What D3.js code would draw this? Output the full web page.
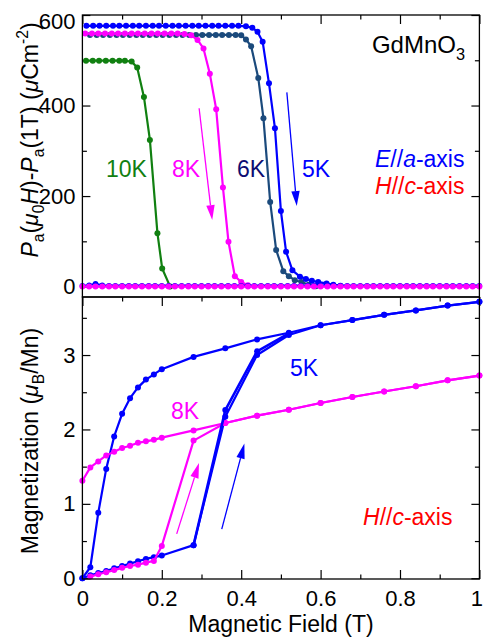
<!DOCTYPE html>
<html>
<head>
<meta charset="utf-8">
<script src="https://cdn.jsdelivr.net/npm/d3@7"></script>
<style>
  html, body { margin: 0; padding: 0; background: #fff; }
  svg { display: block; font-family: "Liberation Sans", Arial, Helvetica, sans-serif; }
</style>
</head>
<body>
<svg id="chart" width="483" height="639"></svg>
<script>
// ---------- Polarization change, P_a(H) - P_a(1T) (µC/m²) ----------
const p5K_H = [0.010,0.027,0.043,0.060,0.077,0.093,0.110,0.127,0.143,0.160,0.177,0.193,0.210,0.227,0.243,0.260,0.277,0.293,0.310,0.327,0.343,0.360,0.377,0.393,
               0.412,0.428,0.441,0.454,0.470,0.485,0.500,0.513,0.529,0.548,0.563,0.578,0.594,0.615,0.632,0.650];
const p5K_P = [576,576,576,576,576,576,576,576,576,576,576,576,576,576,576,576,576,576,576,576,576,576,576,576,
               575,572,563,541,449,350,167,77,36,22,17,13,10,7,4,2];

const p6K_H = [0.019,0.036,0.052,0.069,0.086,0.102,0.119,0.136,0.152,0.169,0.186,0.202,0.219,0.236,0.252,0.269,0.286,0.302,0.319,0.336,0.352,0.369,0.386,
               0.400,0.412,0.425,0.443,0.456,0.473,0.488,0.506,0.520,0.535,0.552,0.570,0.588];
const p6K_P = [556,556,556,556,556,556,556,556,556,556,556,556,556,556,556,556,556,556,556,556,556,556,556,
               555,546,531,461,372,187,81,34,23,14,10,4,1];

const p8K_H = [0.007,0.024,0.040,0.057,0.074,0.090,0.107,0.124,0.140,0.157,0.174,0.190,0.207,0.224,0.240,
               0.257,0.274,0.290,0.305,0.321,0.337,0.354,0.368,0.384,0.400,0.417];
const p8K_P = [559,559,559,559,559,559,559,559,559,559,559,559,559,559,559,
               558,555,545,526,470,392,219,99,23,10,3];

const p10K_H = [0.009,0.026,0.042,0.059,0.076,0.093,0.107,0.124,0.138,0.155,0.170,0.189,0.201,0.221];
const p10K_P = [499,499,499,499,499,499,499,497,484,419,324,118,40,0];

// return sweeps (field grid shared by both)
const returnH = [0.000,0.017,0.033,0.050,0.067,0.083,0.100,0.117,0.133,0.150,0.167,0.183,0.200,0.217,0.233,0.250,0.267,0.283,0.300,0.317,
                 0.333,0.350,0.367,0.383,0.400,0.417,0.433,0.450,0.467,0.483,0.500,0.517,0.533,0.550,0.567,0.583,0.600,0.617,0.633,0.650,
                 0.667,0.683,0.700,0.717,0.733,0.750,0.767,0.783,0.800,0.817,0.833,0.850,0.867,0.883,0.900,0.917,0.933,0.950,0.967,0.983,1.000];
const return5K_P = [2,3,6,3,2,2,2,2,2,2,2,2,2,2,2,2,2,2,2,2,
                    2,2,2,2,2,2,2,2,2,2,2,2,2,2,2,2,2,2,2,2,
                    2,2,2,2,2,2,2,2,2,2,2,2,2,2,2,2,2,2,2,2,2];
const return8K_P = [0,0,0,0,0,0,0,0,0,0,0,0,0,0,0,0,0,0,0,0,
                    0,0,0,0,0,0,0,0,0,0,0,0,0,0,0,0,0,0,0,0,
                    0,0,0,0,0,0,0,0,0,0,0,0,0,0,0,0,0,0,0,0,0];

// ---------- Magnetization (µB/Mn) ----------
const mDown_H = [1.00,0.92,0.84,0.76,0.68,0.60,0.52,0.44,0.36,0.28,0.20,0.18,0.16,0.14,0.12,0.10,0.08,0.06,0.04,0.02,0.00];
const m5K_down = [3.715,3.665,3.60,3.54,3.47,3.40,3.30,3.21,3.09,2.975,2.81,2.74,2.67,2.565,2.42,2.21,1.906,1.47,0.88,0.148,0.0];
const m8K_down = [2.724,2.66,2.58,2.51,2.436,2.355,2.265,2.185,2.086,1.987,1.89,1.86,1.84,1.82,1.78,1.75,1.70,1.65,1.57,1.49,1.31];

const m5K_up_H = [0.00,0.02,0.04,0.06,0.08,0.10,0.12,0.14,0.16,0.18,0.20,0.28,0.36,0.44,0.52,0.60,0.68,0.76,0.84,0.92,1.00];
const m5K_up   = [0.0,0.04,0.07,0.098,0.134,0.165,0.197,0.229,0.26,0.283,0.305,0.445,2.17,3.00,3.27,3.40,3.47,3.54,3.60,3.665,3.715];
const m5K_up2_H = [0.28,0.36,0.44,0.52];
const m5K_up2   = [0.445,2.26,3.05,3.29];

const m8K_up_H = [0.02,0.04,0.06,0.08,0.10,0.12,0.14,0.16,0.18,0.20,0.28,0.36,0.44,0.52,0.60,0.68,0.76,0.84,0.92,1.00];
const m8K_up   = [0.022,0.054,0.08,0.11,0.14,0.165,0.183,0.21,0.233,0.435,1.85,2.086,2.185,2.265,2.355,2.436,2.51,2.58,2.66,2.724];

// ---------- ticks ----------
const fieldMajor = [0, 0.2, 0.4, 0.6, 0.8, 1];
const fieldMinor = [0.1, 0.3, 0.5, 0.7, 0.9];
const polMajor = [0, 200, 400, 600];
const polMinor = [100, 300, 500];
const magMajor = [0, 1, 2, 3];
const magMinor = [0.5, 1.5, 2.5, 3.5];

// ---------- colours ----------
const C = {
  blue: "#0000ff", navy: "#1b4a7c", navyText: "#0d0d72", green: "#118011",
  magenta: "#ff00ff", red: "#ff0000"
};

// ---------- layout ----------
const L = 82.4, R = 479.4, T = 15, MID = 297, B = 579;
const FONT = 23, TICK_FONT = 22;

const svg = d3.select("#chart");
const x = d3.scaleLinear().domain([0, 1]).range([L, R]);
const yP = d3.scaleLinear().domain([-23, 600]).range([MID, T]);
const yM = d3.scaleLinear().domain([-0.01, 3.78]).range([B, MID]);

const zip = (a, b) => a.map((v, i) => [v, b[i]]);

function series(yScale, H, V, color, opt = {}) {
  const pts = zip(H, V);
  const g = svg.append("g");
  g.append("path")
    .datum(pts)
    .attr("fill", "none")
    .attr("stroke", color)
    .attr("stroke-width", opt.lw || 2.2)
    .attr("stroke-linejoin", "round")
    .attr("d", d3.line().x(d => x(d[0])).y(d => yScale(d[1])));
  if (opt.r !== 0) {
    g.selectAll("circle").data(pts).join("circle")
      .attr("cx", d => x(d[0])).attr("cy", d => yScale(d[1]))
      .attr("r", opt.r || 3).attr("fill", color);
  }
}

// tick-only axes carry no text at all
function axisAt(gen, tx, ty, withLabels = false) {
  const g = svg.append("g").attr("transform", `translate(${tx},${ty})`);
  g.call(gen);
  g.select(".domain").remove();
  g.attr("font-family", null).attr("font-size", TICK_FONT);
  g.selectAll("line").attr("stroke", "#000").attr("stroke-width", 1.2);
  if (withLabels) g.selectAll("text").attr("fill", "#000");
  else g.selectAll("text").remove();
  return g;
}

// ---------- upper panel ----------
axisAt(d3.axisLeft(yP).tickValues(polMajor).tickSizeInner(-8).tickSizeOuter(0).tickPadding(7).tickFormat(d3.format("d")), L, 0, true)
  .selectAll("text").filter(d => d === 600).attr("dy", "0.62em");
axisAt(d3.axisLeft(yP).tickValues(polMinor).tickSizeInner(-4.5).tickSizeOuter(0), L, 0);
axisAt(d3.axisRight(yP).tickValues(polMajor).tickSizeInner(-8).tickSizeOuter(0), R, 0);
axisAt(d3.axisRight(yP).tickValues(polMinor).tickSizeInner(-4.5).tickSizeOuter(0), R, 0);
axisAt(d3.axisTop(x).tickValues(fieldMajor).tickSizeInner(-9).tickSizeOuter(0), 0, T);
axisAt(d3.axisTop(x).tickValues(fieldMinor).tickSizeInner(-4.5).tickSizeOuter(0), 0, T);

// ---------- lower panel ----------
axisAt(d3.axisTop(x).tickValues(fieldMajor).tickSizeInner(-9).tickSizeOuter(0), 0, MID);
axisAt(d3.axisTop(x).tickValues(fieldMinor).tickSizeInner(-4.5).tickSizeOuter(0), 0, MID);
axisAt(d3.axisBottom(x).tickValues(fieldMajor).tickSizeInner(-9).tickSizeOuter(0).tickPadding(11)
  .tickFormat(d => (d === 0 || d === 1) ? String(d) : d.toFixed(1)), 0, B, true)
  .selectAll("text").filter(d => d === 1).attr("dx", -3);
axisAt(d3.axisBottom(x).tickValues(fieldMinor).tickSizeInner(-4.5).tickSizeOuter(0), 0, B);
axisAt(d3.axisLeft(yM).tickValues(magMajor).tickSizeInner(-8).tickSizeOuter(0).tickPadding(7).tickFormat(d3.format("d")), L, 0, true);
axisAt(d3.axisLeft(yM).tickValues(magMinor).tickSizeInner(-4.5).tickSizeOuter(0), L, 0);
axisAt(d3.axisRight(yM).tickValues(magMajor).tickSizeInner(-8).tickSizeOuter(0), R, 0);
axisAt(d3.axisRight(yM).tickValues(magMinor).tickSizeInner(-4.5).tickSizeOuter(0), R, 0);

// ---------- data: polarization ----------
series(yP, p6K_H, p6K_P, C.navy);
series(yP, p10K_H, p10K_P, C.green);
series(yP, p5K_H, p5K_P, C.blue);
series(yP, p8K_H, p8K_P, C.magenta);
series(yP, returnH, return5K_P, C.blue, { r: 2.8 });
series(yP, returnH, return8K_P, C.magenta, { r: 3 });

// ---------- data: magnetization ----------
series(yM, mDown_H, m5K_down, C.blue, { r: 3 });
series(yM, m5K_up_H, m5K_up, C.blue, { r: 3 });
series(yM, m8K_up_H, m8K_up, C.magenta, { r: 3 });
series(yM, mDown_H, m8K_down, C.magenta, { r: 3 });
series(yM, m5K_up2_H, m5K_up2, C.blue, { r: 3, lw: 2.6 });

// ---------- frames ----------
svg.append("rect").attr("x", L).attr("y", T).attr("width", R - L).attr("height", MID - T)
  .attr("fill", "none").attr("stroke", "#000").attr("stroke-width", 1.3);
svg.append("rect").attr("x", L).attr("y", MID).attr("width", R - L).attr("height", B - MID)
  .attr("fill", "none").attr("stroke", "#000").attr("stroke-width", 1.3);

// ---------- sweep-direction arrows ----------
function arrow(yScale, from, to, color) {
  const x0 = x(from[0]), y0 = yScale(from[1]), x1 = x(to[0]), y1 = yScale(to[1]);
  const ang = Math.atan2(y1 - y0, x1 - x0);
  const len = 15, hw = 4.2;
  const bx = x1 - len * Math.cos(ang), by = y1 - len * Math.sin(ang);
  svg.append("line").attr("x1", x0).attr("y1", y0).attr("x2", bx).attr("y2", by)
    .attr("stroke", color).attr("stroke-width", 1.3);
  const px = -Math.sin(ang) * hw, py = Math.cos(ang) * hw;
  svg.append("path")
    .attr("d", `M${x1},${y1}L${bx + px},${by + py}L${bx - px},${by - py}Z`)
    .attr("fill", color);
}
arrow(yP, [0.294, 394], [0.327, 147], C.magenta);
arrow(yP, [0.515, 429], [0.540, 178], C.blue);
arrow(yM, [0.2375, 0.596], [0.2937, 1.548], C.magenta);
arrow(yM, [0.351, 0.66], [0.408, 1.81], C.blue);

// ---------- text ----------
function rich(sel, parts, size) {
  let shift = 0;
  parts.forEach(p => {
    const ts = sel.append("tspan").text(p.t);
    const target = p.sub ? size * 0.3 : p.sup ? -size * 0.4 : 0;
    ts.attr("dy", target - shift);
    shift = target;
    if (p.sub || p.sup) ts.attr("font-size", size * 0.68);
    if (p.i) ts.attr("font-style", "italic");
  });
}
function label(xp, yp, parts, color, size = FONT, anchor = "start") {
  const t = svg.append("text").attr("x", xp).attr("y", yp).attr("fill", color)
    .attr("font-size", size).attr("text-anchor", anchor);
  rich(t, parts, size);
  return t;
}

label(465, 53, [{ t: "GdMnO" }, { t: "3", sub: true }], "#000", 24, "end");
label(375, 167, [{ t: "E", i: true }, { t: "//" }, { t: "a", i: true }, { t: "-axis" }], C.blue);
label(375, 194, [{ t: "H", i: true }, { t: "//" }, { t: "c", i: true }, { t: "-axis" }], C.red);
label(106, 177, [{ t: "10K" }], C.green);
label(172, 177, [{ t: "8K" }], C.magenta);
label(237, 177, [{ t: "6K" }], C.navyText);
label(302, 177, [{ t: "5K" }], C.blue);

label(290, 376, [{ t: "5K" }], C.blue);
label(171, 419, [{ t: "8K" }], C.magenta);
label(363, 525, [{ t: "H", i: true }, { t: "//" }, { t: "c", i: true }, { t: "-axis" }], C.red);

// axis titles
const tTop = svg.append("text").attr("transform", "translate(37.5,140) rotate(-90)")
  .attr("text-anchor", "middle").attr("font-size", FONT).attr("fill", "#000");
rich(tTop, [
  { t: "P", i: true }, { t: "a", sub: true }, { t: "(" }, { t: "μ", i: true }, { t: "0", sub: true },
  { t: "H", i: true }, { t: ")-" }, { t: "P", i: true }, { t: "a", sub: true }, { t: "(1T) (" },
  { t: "μ", i: true }, { t: "Cm" }, { t: "-2", sup: true }, { t: ")" }
], FONT);

const tBot = svg.append("text").attr("transform", "translate(37.5,441) rotate(-90)")
  .attr("text-anchor", "middle").attr("font-size", FONT).attr("fill", "#000");
rich(tBot, [{ t: "Magnetization (" }, { t: "μ", i: true }, { t: "B", sub: true }, { t: "/Mn)" }], FONT);

svg.append("text").attr("x", 281).attr("y", 631.5).attr("text-anchor", "middle")
  .attr("font-size", FONT).attr("fill", "#000").text("Magnetic Field (T)");
</script>
</body>
</html>
